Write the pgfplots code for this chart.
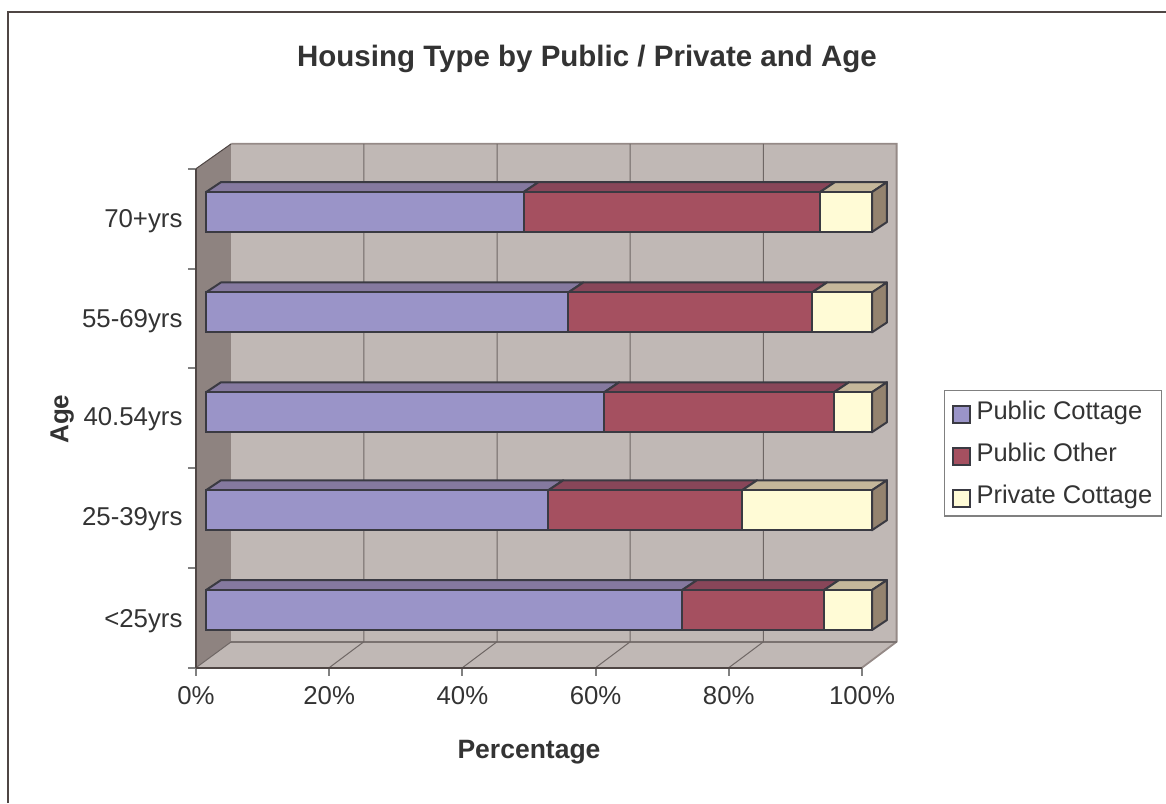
\documentclass[border=0pt]{standalone}
\usepackage{pgfplots}
\usepackage{pgfplotstable}
\usepackage{fontspec}
\setmainfont{Liberation Sans}
\pgfplotsset{compat=1.18}
\definecolor{wallc}{HTML}{C0B8B5}
\definecolor{sidewall}{HTML}{8E8380}
\definecolor{walledge}{HTML}{958A87}
\definecolor{gridc}{HTML}{6E6664}
\definecolor{axisc}{HTML}{4F4644}
\definecolor{tickc}{HTML}{808080}
\definecolor{edgec}{HTML}{3A3A42}
\definecolor{txt}{HTML}{333333}
\definecolor{blue1}{HTML}{9A94C8}
\definecolor{blue2}{HTML}{85799F}
\definecolor{red1}{HTML}{A55060}
\definecolor{red2}{HTML}{884659}
\definecolor{yel1}{HTML}{FFFBD6}
\definecolor{yel2}{HTML}{C5B79B}
\definecolor{yel3}{HTML}{94836F}
% y = position of the bar, then the padding to the depth offset and the three shares (%)
\pgfplotstableread{
y     pad  cottage other private
0.578 1.5  71.5    21.3  7.2
1.578 1.5  51.4    29.1  19.5
2.56  1.5  59.8    34.5  5.7
3.56  1.5  54.4    36.6  9.0
4.566 1.5  47.7    44.5  7.8
}\housing
\newcommand{\facetop}[4]{% y, x0, x1, colour
  \pgfmathsetmacro{\yt}{#1+0.2}\pgfmathsetmacro{\yb}{#1+0.3}
  \pgfmathsetmacro{\xa}{#2+1.5}\pgfmathsetmacro{\xb}{#3+1.5}
  \pgfmathsetmacro{\xc}{#3+3.75}\pgfmathsetmacro{\xd}{#2+3.75}
  \addplot[fill=#4,draw=edgec,line width=2pt,line join=round] coordinates {(\xa,\yt) (\xb,\yt) (\xc,\yb) (\xd,\yb)} --cycle;
}
\newcommand{\faceside}[1]{% y
  \pgfmathsetmacro{\yt}{#1+0.2}\pgfmathsetmacro{\yu}{#1+0.3}
  \pgfmathsetmacro{\yb}{#1-0.2}\pgfmathsetmacro{\yv}{#1-0.1}
  \addplot[fill=yel3,draw=edgec,line width=2pt,line join=round] coordinates {(101.5,\yt) (103.75,\yu) (103.75,\yv) (101.5,\yb)} --cycle;
}
\newcommand{\barback}[3]{% y, end of cottage, end of other
  \facetop{#1}{0}{#2}{blue2}
  \facetop{#1}{#2}{#3}{red2}
  \facetop{#1}{#3}{100}{yel2}
  \faceside{#1}
}
\newcommand{\legsq}[1]{\draw[fill=#1,draw=edgec,line width=2pt] (0pt,-11.5pt) rectangle (17pt,5.5pt); \path[draw=none,fill=none] (0pt,0pt) -- (22pt,0pt);}
\begin{document}
\begin{tikzpicture}
\path[use as bounding box] (-196pt,-135.3pt) rectangle (970pt,667.7pt);
\draw[color=axisc,line width=1.5pt] (-188pt,-135.3pt) -- (-188pt,655.7pt) -- (970pt,655.7pt);
% walls, floor, grid, and the receding faces of the bars
\begin{axis}[
  scale only axis,width=666pt,height=499pt,
  xmin=0,xmax=100,ymin=0,ymax=5,
  hide axis,clip=false,
]
\addplot[fill=sidewall,draw=none] coordinates {(0,0) (5.3,0.26) (5.3,5.25) (0,5)} --cycle;
\addplot[fill=wallc,draw=none] coordinates {(5.3,0.26) (105.2,0.26) (105.2,5.25) (5.3,5.25)} --cycle;
\addplot[fill=wallc,draw=none] coordinates {(0,0) (100,0) (105.2,0.26) (5.3,0.26)} --cycle;
\addplot[color=walledge,line width=1.8pt] coordinates {(5.3,5.25) (105.2,5.25) (105.2,0.26) (100,0)};
\addplot[color=gridc!85!wallc,line width=1.5pt] coordinates {(5.3,0.26) (105.2,0.26)};
\addplot[color=axisc,line width=1pt] coordinates {(0,5) (5.3,5.25)};
\addplot[color=gridc,line width=1pt] coordinates {(0,0) (5.3,0.26)};
\addplot[color=gridc,line width=1pt] coordinates {(20,0) (25.2,0.26) (25.2,5.25)};
\addplot[color=gridc,line width=1pt] coordinates {(40,0) (45.2,0.26) (45.2,5.25)};
\addplot[color=gridc,line width=1pt] coordinates {(60,0) (65.2,0.26) (65.2,5.25)};
\addplot[color=gridc,line width=1pt] coordinates {(80,0) (85.2,0.26) (85.2,5.25)};
% tick marks of the percentage axis
\addplot[color=tickc,line width=2pt] coordinates {(0,0) (0,-0.08)};
\addplot[color=tickc,line width=2pt] coordinates {(20,0) (20,-0.08)};
\addplot[color=tickc,line width=2pt] coordinates {(40,0) (40,-0.08)};
\addplot[color=tickc,line width=2pt] coordinates {(60,0) (60,-0.08)};
\addplot[color=tickc,line width=2pt] coordinates {(80,0) (80,-0.08)};
\addplot[color=tickc,line width=2pt] coordinates {(100,0) (100,-0.08)};
\barback{0.578}{71.5}{92.8}
\barback{1.578}{51.4}{80.5}
\barback{2.56}{59.8}{94.3}
\barback{3.56}{54.4}{91.0}
\barback{4.566}{47.7}{92.2}
\end{axis}
% the bars' front faces, axes and labels
\begin{axis}[
  scale only axis,width=666pt,height=499pt,
  xmin=0,xmax=100,ymin=0,ymax=5,
  clip=false,
  xbar stacked,bar width=40pt,
  axis x line*=bottom,axis y line*=left,
  x axis line style={color=axisc,line width=2pt},
  y axis line style={color=axisc,line width=2pt},
  tick align=outside,major tick length=8pt,
  tick style={draw=tickc,line width=2pt},
  xtick={0,20,40,60,80,100},
  xticklabels={0\%,20\%,40\%,60\%,80\%,100\%},
  ytick={0,1,2,3,4,5},
  yticklabels={},
  extra y ticks={0.47,1.49,2.49,3.47,4.47},
  extra y tick labels={<25yrs,25-39yrs,40.54yrs,55-69yrs,70+yrs},
  extra y tick style={major tick length=0pt,tick style={draw=none}},
  tick label style={font=\fontsize{25.8}{30}\selectfont,text=txt},
  x tick label style={yshift=-7pt},
  y tick label style={xshift=-10pt},
  xlabel={\bfseries Percentage},
  ylabel={\bfseries Age},
  xlabel style={font=\fontsize{26.5}{30}\selectfont,text=txt,at={(axis description cs:0.5,-0.169)},anchor=center},
  ylabel style={font=\fontsize{26}{30}\selectfont,text=txt,at={(axis description cs:-0.201,0.498)},anchor=center,rotate=0},
  title={\bfseries Housing Type by Public / Private and Age},
  title style={font=\fontsize{29.5}{34}\selectfont,text=txt,at={(axis description cs:0.587,1.208)},anchor=center},
  legend cell align=left,
  legend style={at={(axis description cs:1.123,0.5565)},anchor=north west,
    draw=tickc,line width=1.2pt,fill=white,font=\fontsize{25.5}{30}\selectfont,text=txt,
    inner xsep=7pt,inner ysep=8.5pt,row sep=17.5pt,/tikz/every even column/.append style={column sep=0pt}},
]
\addplot[draw=none,fill=none,forget plot] table[x=pad,y=y] {\housing};
\addplot[fill=blue1,draw=edgec,line width=2pt,legend image code/.code={\legsq{blue1}}] table[x=cottage,y=y] {\housing};
\addlegendentry{Public Cottage}
\addplot[fill=red1,draw=edgec,line width=2pt,legend image code/.code={\legsq{red1}}] table[x=other,y=y] {\housing};
\addlegendentry{Public Other}
\addplot[fill=yel1,draw=edgec,line width=2pt,legend image code/.code={\legsq{yel1}}] table[x=private,y=y] {\housing};
\addlegendentry{Private Cottage}
\end{axis}
\end{tikzpicture}
\end{document}
